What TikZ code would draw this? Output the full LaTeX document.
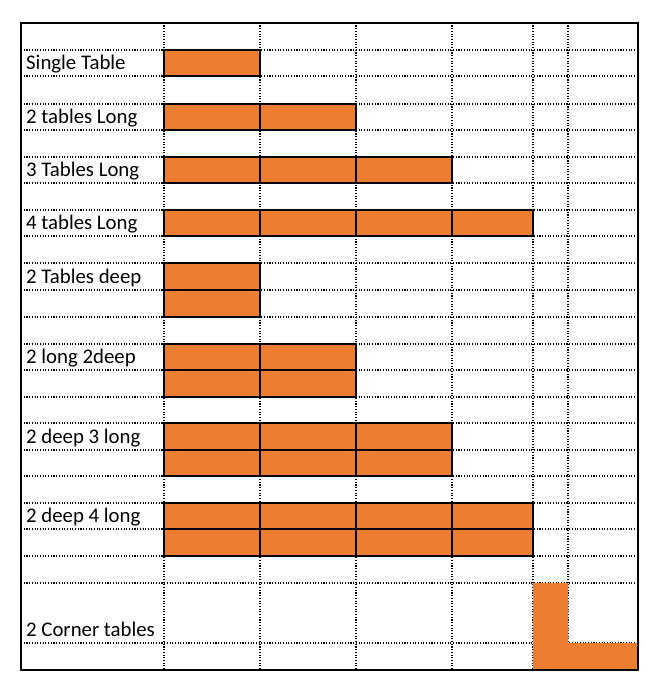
\documentclass[tikz,border=0pt]{standalone}
\usepackage{fontspec}
\setmainfont{Carlito}
\definecolor{tableorange}{HTML}{ED7D31}
\begin{document}
\begin{tikzpicture}[x=1pt,y=-1pt,
  gridline/.style={line width=1.1pt, dash pattern=on 1.1pt off 1.6pt},
  tablebox/.style={fill=tableorange, draw=black, line width=1.4pt},
  rowlabel/.style={anchor=base west, inner sep=0pt, font=\fontsize{20.8}{24}\selectfont}]
\useasboundingbox (0,0) rectangle (658,688);
% grid
\foreach \y in {50,76,104,130,157,183,210,236,263,290,317,344,370,397,423,450,476,503,529,556,583,643}
  \draw[gridline] (21,\y) -- (638,\y);
\foreach \x in {164,260,356,452,533,568}
  \draw[gridline] (\x,22.7) -- (\x,670);
% single row arrangements
\draw[tablebox] (164,50) rectangle (260,76);
\foreach \a/\b in {164/260,260/356}
  \draw[tablebox] (\a,104) rectangle (\b,130);
\foreach \a/\b in {164/260,260/356,356/452}
  \draw[tablebox] (\a,157) rectangle (\b,183);
\foreach \a/\b in {164/260,260/356,356/452,452/533}
  \draw[tablebox] (\a,210) rectangle (\b,236);
% two deep arrangements
\foreach \t/\u in {263/290,290/317}
  \draw[tablebox] (164,\t) rectangle (260,\u);
\foreach \t/\u in {344/370,370/397}
  \foreach \a/\b in {164/260,260/356}
    \draw[tablebox] (\a,\t) rectangle (\b,\u);
\foreach \t/\u in {423/450,450/476}
  \foreach \a/\b in {164/260,260/356,356/452}
    \draw[tablebox] (\a,\t) rectangle (\b,\u);
\foreach \t/\u in {503/529,529/556}
  \foreach \a/\b in {164/260,260/356,356/452,452/533}
    \draw[tablebox] (\a,\t) rectangle (\b,\u);
% corner tables
\fill[tableorange] (533,583) -- (568,583) -- (568,643) -- (638,643) -- (638,670) -- (533,670) -- cycle;
% labels
\node[rowlabel] (l1) at (26,69) {Single Table};
\node[rowlabel] (l2) at (26,123) {2 tables Long};
\node[rowlabel] (l3) at (26,176) {3 Tables Long};
\node[rowlabel] (l4) at (26,229) {4 tables Long};
\node[rowlabel] (l5) at (26,283) {2 Tables deep};
\node[rowlabel] (l6) at (26,363) {2 long 2deep};
\node[rowlabel] (l7) at (26,443) {2 deep 3 long};
\node[rowlabel] (l8) at (26,522) {2 deep 4 long};
\node[rowlabel] (l9) at (26,636) {2 Corner tables};
% outer border
\draw[line width=2.2pt] (21,22.7) rectangle (638,670);
\end{tikzpicture}
\end{document}
